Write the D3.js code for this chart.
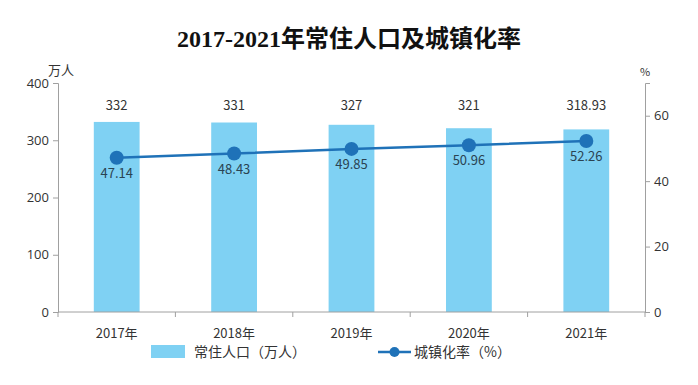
<!DOCTYPE html>
<html>
<head>
<meta charset="utf-8">
<script src="https://cdn.jsdelivr.net/npm/d3@7"></script>
<style>
  body { margin: 0; background: #fff; }
  text { font-family: "Noto Sans CJK SC", "Open Sans", sans-serif; }
</style>
</head>
<body>
<div id="chart"></div>
<script>
// data
var years = ["2017年", "2018年", "2019年", "2020年", "2021年"];
var population = [332, 331, 327, 321, 318.93];
var urbanRate = [47.14, 48.43, 49.85, 50.96, 52.26];
var leftTicks = [0, 100, 200, 300, 400];
var rightTicks = [0, 20, 40, 60];

var width = 698, height = 385;
var margin = {top: 83, right: 53, bottom: 73, left: 58};

var svg = d3.select("#chart").append("svg")
    .attr("width", width)
    .attr("height", height);

var x = d3.scaleBand()
    .domain(years)
    .range([margin.left, width - margin.right])
    .paddingInner(0.61)
    .paddingOuter(0.305);

var yL = d3.scaleLinear().domain([0, 400]).range([height - margin.bottom, margin.top]);
var yR = d3.scaleLinear().domain([0, 70]).range([height - margin.bottom, margin.top]);

// title
svg.append("text")
    .attr("x", width / 2)
    .attr("y", 47)
    .attr("text-anchor", "middle")
    .style("font-family", '"Liberation Serif", "Noto Sans CJK SC", serif')
    .style("font-weight", "bold")
    .style("font-size", "24px")
    .attr("fill", "#111")
    .text("2017-2021年常住人口及城镇化率");

// bars
svg.append("g")
    .selectAll("rect")
    .data(population)
    .join("rect")
    .attr("x", (d, i) => x(years[i]))
    .attr("y", d => yL(d))
    .attr("width", x.bandwidth())
    .attr("height", d => yL(0) - yL(d))
    .attr("fill", "#7fd1f3");

// bar labels
svg.append("g")
    .selectAll("text")
    .data(population)
    .join("text")
    .attr("x", (d, i) => x(years[i]) + x.bandwidth() / 2)
    .attr("y", 110)
    .attr("text-anchor", "middle")
    .style("font-size", "13px")
    .attr("fill", "#333")
    .text(d => d);

// axes
var axisColor = "#a0a0a0";
var gL = svg.append("g")
    .attr("transform", `translate(${margin.left},0)`)
    .call(d3.axisLeft(yL).tickValues(leftTicks).tickSize(5).tickPadding(4));
var gR = svg.append("g")
    .attr("transform", `translate(${width - margin.right},0)`)
    .call(d3.axisRight(yR).tickValues(rightTicks).tickSize(5).tickPadding(4));

var xBand = d3.scaleLinear().domain([0, years.length]).range([margin.left, width - margin.right]);
var gX = svg.append("g")
    .attr("transform", `translate(0,${height - margin.bottom})`);
gX.append("line")
    .attr("x1", margin.left).attr("x2", width - margin.right)
    .attr("stroke", axisColor);
gX.selectAll(".tk")
    .data(d3.range(years.length + 1))
    .join("line")
    .attr("x1", d => xBand(d)).attr("x2", d => xBand(d))
    .attr("y1", 0).attr("y2", 5)
    .attr("stroke", axisColor);
gX.selectAll("text")
    .data(years)
    .join("text")
    .attr("x", d => x(d) + x.bandwidth() / 2)
    .attr("y", 26)
    .attr("text-anchor", "middle")
    .style("font-size", "13px")
    .attr("fill", "#333")
    .text(d => d);

[gL, gR].forEach(function(g) {
    g.select(".domain").attr("stroke", axisColor);
    g.selectAll(".tick line").attr("stroke", axisColor);
    g.selectAll(".tick text")
        .style("font-size", "13px")
        .style("font-family", '"Open Sans", sans-serif')
        .attr("fill", "#333");
});

// axis units
svg.append("text")
    .attr("x", 48).attr("y", 75)
    .style("font-size", "13px")
    .attr("fill", "#333")
    .text("万人");
svg.append("text")
    .attr("x", width - margin.right).attr("y", 76)
    .attr("text-anchor", "middle")
    .style("font-size", "11px")
    .attr("fill", "#333")
    .text("%");

// line
var line = d3.line()
    .x((d, i) => x(years[i]) + x.bandwidth() / 2)
    .y(d => yR(d));

svg.append("path")
    .datum(urbanRate)
    .attr("d", line)
    .attr("fill", "none")
    .attr("stroke", "#1f72b8")
    .attr("stroke-width", 2.5);

svg.append("g")
    .selectAll("circle")
    .data(urbanRate)
    .join("circle")
    .attr("cx", (d, i) => x(years[i]) + x.bandwidth() / 2)
    .attr("cy", d => yR(d))
    .attr("r", 7)
    .attr("fill", "#1f72b8");

svg.append("g")
    .selectAll("text")
    .data(urbanRate)
    .join("text")
    .attr("x", (d, i) => x(years[i]) + x.bandwidth() / 2)
    .attr("y", d => yR(d) + 20)
    .attr("text-anchor", "middle")
    .style("font-size", "13px")
    .attr("fill", "#2a4352")
    .text(d => d.toFixed(2));

// legend
var lg = svg.append("g").attr("transform", "translate(0,352)");
lg.append("rect")
    .attr("x", 151).attr("y", -7)
    .attr("width", 34).attr("height", 13)
    .attr("fill", "#7fd1f3");
lg.append("text")
    .attr("x", 194).attr("y", 5)
    .style("font-size", "14px")
    .attr("fill", "#333")
    .text("常住人口（万人）");
lg.append("line")
    .attr("x1", 378).attr("x2", 411)
    .attr("stroke", "#1f72b8").attr("stroke-width", 2.5);
lg.append("circle")
    .attr("cx", 394.5).attr("cy", 0).attr("r", 5)
    .attr("fill", "#1f72b8");
lg.append("text")
    .attr("x", 414).attr("y", 5)
    .style("font-size", "14px")
    .attr("fill", "#333")
    .text("城镇化率（%）");
</script>
</body>
</html>
